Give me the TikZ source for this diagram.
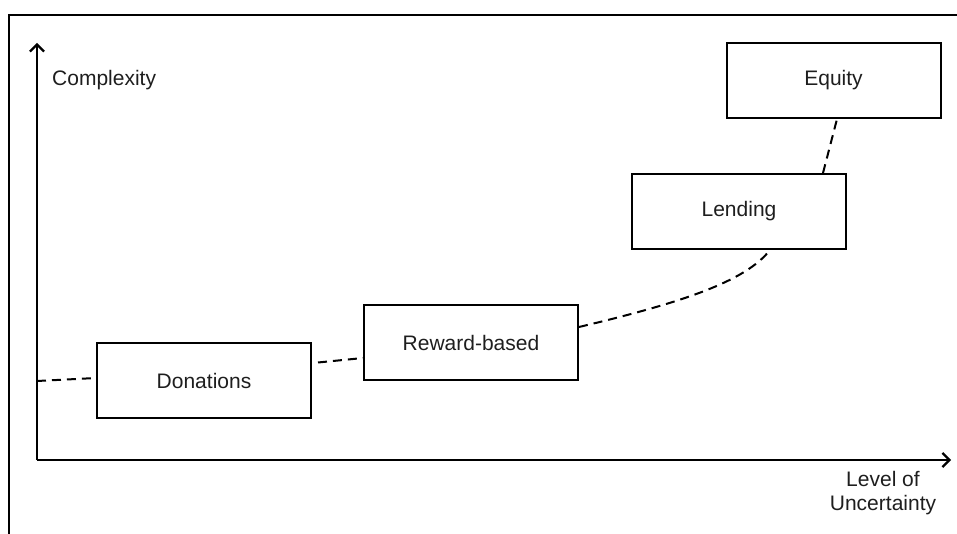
\documentclass[tikz,border=0pt]{standalone}
\usepackage{fontspec}
\setmainfont{Liberation Sans}
\usetikzlibrary{arrows.meta}
\definecolor{txt}{RGB}{30,30,30}
\tikzset{
  stage/.style={draw=black, line width=2pt, minimum width=214pt, minimum height=75pt, inner sep=0pt, font=\fontsize{21pt}{25pt}\selectfont, text=txt},
  axis/.style={line width=2.2pt, -{Straight Barb[length=7pt,width=14pt,line width=2.2pt]}},
  link/.style={line width=2pt, dash pattern=on 9pt off 6pt},
  lbl/.style={font=\fontsize{21pt}{24pt}\selectfont, text=txt, inner sep=0pt}
}
\begin{document}
\begin{tikzpicture}[x=1pt,y=-1pt]
\useasboundingbox (0,0) rectangle (957,534);
% frame
\draw[line width=1.6pt] (9,534) -- (9,15) -- (957,15);
% axes
\coordinate (O) at (37,460);
\coordinate (Ytip) at (37,43);
\coordinate (Xtip) at (951,460);
\coordinate (Ystart) at (37,381);
\draw[axis] (O) -- (Ytip);
\draw[axis] (O) -- (Xtip);
\node[lbl, anchor=west] (cx) at (52,80) {Complexity};
\node[lbl, align=center] (lu) at (883,493) {Level of\\Uncertainty};
% stages
\node[stage] (don) at (204,380.5) {Donations};
\node[stage] (rew) at (471,342.5) {Reward-based};
\node[stage] (len) at (739,211.5) {Lending};
\node[stage] (eq) at (833.5,80.5) {Equity};
% connectors
\draw[link] (Ystart) -- ([yshift=2.5pt]don.west);
\draw[link] ([xshift=6pt,yshift=18pt]don.east) -- ([yshift=-15.5pt]rew.west);
\draw[link] ([yshift=15.5pt]rew.east) .. controls (680,303) and (745,282) .. ([xshift=31pt]len.south);
\draw[link] ([xshift=84pt]len.north) -- ([xshift=3.5pt]eq.south);
\end{tikzpicture}
\end{document}
